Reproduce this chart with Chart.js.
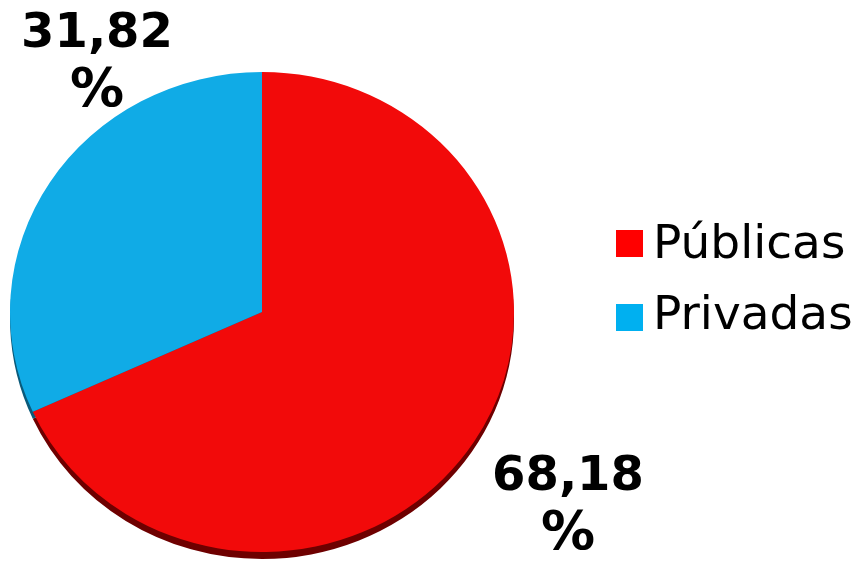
<!DOCTYPE html>
<html>
<head>
<meta charset="utf-8">
<script src="https://cdn.jsdelivr.net/npm/chart.js@4/dist/chart.umd.min.js"></script>
<style>
    body { margin: 0; background: #fff; }
    #wrap { position: relative; width: 859px; height: 568px; overflow: hidden; }
    #pie { position: absolute; left: 0; top: 0; }
    .val { position: absolute; width: 200px; text-align: center; font: bold 48px "DejaVu Sans", Verdana, sans-serif; line-height: 58px; color: #000; }
    .val .p { font-size: 54px; }
    .leg-box { position: absolute; width: 27px; height: 27px; }
    .leg-txt { position: absolute; font: 47px "DejaVu Sans", Verdana, sans-serif; line-height: 46px; color: #000; white-space: nowrap; }
</style>
</head>
<body>
<div id="wrap">
    <canvas id="pie" width="859" height="568"></canvas>
</div>
<script>
const categories = ['Públicas', 'Privadas'];
const values = [68.18, 31.82];
const sliceColors = ['#f20a0a', '#10abe6'];
const rimColors = ['#6e0000', '#0a5a7a'];
const legendColors = ['#ff0000', '#00b0f0'];

// label placement (center x, top y) for each value label
const labelPos = [[568, 444], [97, 1]];
// legend rows
const legendTops = [230, 304];
const legendTextTops = [219, 290];

const squash = 240 / 252;
const rimDepth = 7;

function pct(v) {
    return v.toFixed(2).replace('.', ',');
}

// draws a darker rim under the pie and squashes the pie into an ellipse
const tiltPlugin = {
    id: 'tilt',
    beforeDatasetsDraw(chart) {
        const ctx = chart.ctx;
        const meta = chart.getDatasetMeta(0);
        const c = meta.data[0];
        ctx.save();
        ctx.translate(c.x, c.y + rimDepth);
        ctx.scale(1, squash);
        ctx.translate(-c.x, -c.y);
        meta.data.forEach((arc, i) => {
            ctx.beginPath();
            ctx.moveTo(arc.x, arc.y);
            ctx.arc(arc.x, arc.y, arc.outerRadius, arc.startAngle, arc.endAngle);
            ctx.closePath();
            ctx.fillStyle = rimColors[i];
            ctx.fill();
        });
        ctx.restore();
        ctx.save();
        ctx.translate(c.x, c.y);
        ctx.scale(1, squash);
        ctx.translate(-c.x, -c.y);
    },
    afterDatasetsDraw(chart) {
        chart.ctx.restore();
    }
};

const ctx = document.getElementById('pie').getContext('2d');
const pieChart = new Chart(ctx, {
    type: 'pie',
    data: {
        labels: categories,
        datasets: [{
            data: values,
            backgroundColor: sliceColors,
            borderWidth: 0
        }]
    },
    options: {
        responsive: false,
        animation: false,
        events: [],
        layout: { padding: { left: 10, right: 345, top: 60, bottom: 4 } },
        plugins: {
            legend: { display: false },
            tooltip: { enabled: false }
        }
    },
    plugins: [tiltPlugin]
});

const wrap = document.getElementById('wrap');

values.forEach((v, i) => {
    const d = document.createElement('div');
    d.className = 'val';
    d.style.left = (labelPos[i][0] - 100) + 'px';
    d.style.top = labelPos[i][1] + 'px';
    d.innerHTML = pct(v) + '<br><span class="p">%</span>';
    wrap.appendChild(d);
});

categories.forEach((name, i) => {
    const box = document.createElement('div');
    box.className = 'leg-box';
    box.style.left = '616px';
    box.style.top = legendTops[i] + 'px';
    box.style.background = legendColors[i];
    wrap.appendChild(box);

    const t = document.createElement('div');
    t.className = 'leg-txt';
    t.style.left = '653px';
    t.style.top = legendTextTops[i] + 'px';
    t.textContent = name;
    wrap.appendChild(t);
});
</script>
</body>
</html>
